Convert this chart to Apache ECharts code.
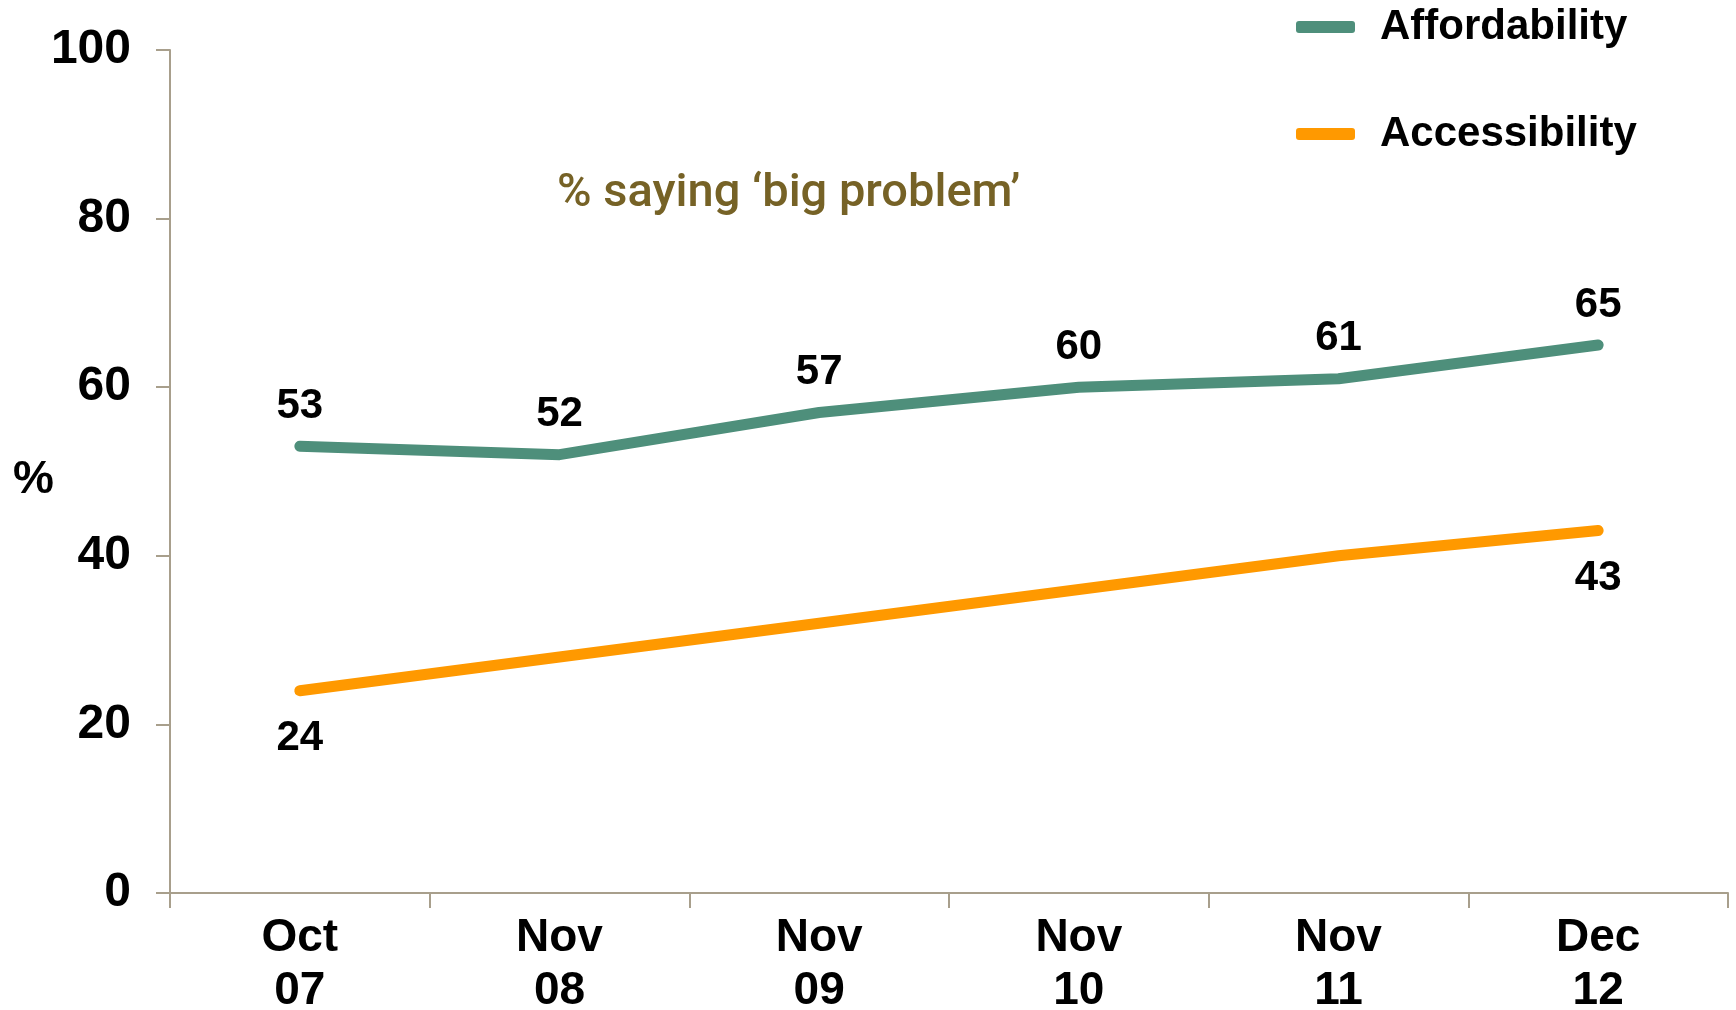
<!DOCTYPE html>
<html>
<head>
<meta charset="utf-8">
<script src="https://cdn.jsdelivr.net/npm/echarts@6/dist/echarts.min.js"></script>
<style>html,body{margin:0;padding:0;background:#fff}#c{width:1736px;height:1010px}</style>
</head>
<body>
<div id="c"></div>
<script>
const categories = ['Oct\n07', 'Nov\n08', 'Nov\n09', 'Nov\n10', 'Nov\n11', 'Dec\n12'];
const affordability = [53, 52, 57, 60, 61, 65];
const accessibility = [24, 28, 32, 36, 40, 43];
const accessibilityLabelled = [0, 5];
const yTicks = [0, 20, 40, 60, 80, 100];

const FONT = '"Liberation Sans", Arial, sans-serif';
const chart = echarts.init(document.getElementById('c'));
const axisColor = '#a89f8c';

chart.setOption({
  animation: false,
  grid: { left: 170, right: 8, top: 50, bottom: 117, containLabel: false, outerBoundsMode: 'none' },
  legend: {
    orient: 'vertical', left: 1291, top: 1, itemGap: 65,
    icon: 'roundRect', itemWidth: 59, itemHeight: 12,
    textStyle: { fontFamily: FONT, fontWeight: 'bold', fontSize: 42, color: '#000', padding: [0, 0, 0, 20] },
    data: ['Affordability', 'Accessibility']
  },
  graphic: [
    { type: 'text', left: 557, top: 171, style: { text: '% saying \u2018big problem\u2019', fontFamily: 'Roboto, sans-serif', fontWeight: 500, fontSize: 47, fill: '#766226' } },
    { type: 'text', left: 13, top: 457, style: { text: '%', fontFamily: FONT, fontWeight: 'bold', fontSize: 46, fill: '#000' } }
  ],
  xAxis: {
    type: 'category', data: categories, boundaryGap: true,
    axisLine: { lineStyle: { color: axisColor, width: 2 } },
    axisTick: { show: true, length: 15, lineStyle: { color: axisColor, width: 2 } },
    axisLabel: { fontFamily: FONT, fontWeight: 'bold', fontSize: 46, color: '#000', margin: 19, lineHeight: 53, interval: 0 }
  },
  yAxis: {
    type: 'value', min: 0, max: 100, interval: 20,
    axisLine: { show: true, lineStyle: { color: axisColor, width: 2 } },
    axisTick: { show: true, length: 14, lineStyle: { color: axisColor, width: 2 } },
    splitLine: { show: false },
    axisLabel: { fontFamily: FONT, fontWeight: 'bold', fontSize: 48, color: '#000', margin: 39,
      formatter: v => yTicks.includes(v) ? String(v) : '' }
  },
  series: [
    {
      name: 'Affordability', type: 'line', data: affordability,
      symbol: 'circle', symbolSize: 0, showSymbol: true,
      itemStyle: { color: '#4e8f7b' },
      lineStyle: { color: '#4e8f7b', width: 11, cap: 'round', join: 'round' },
      label: { show: true, position: 'top', distance: 19, fontFamily: FONT, fontWeight: 'bold', fontSize: 42, color: '#000' }
    },
    {
      name: 'Accessibility', type: 'line',
      data: accessibility.map((v, i) => ({
        value: v,
        label: { show: accessibilityLabelled.includes(i) }
      })),
      symbol: 'circle', symbolSize: 0, showSymbol: true,
      itemStyle: { color: '#ff9900' },
      lineStyle: { color: '#ff9900', width: 11, cap: 'round', join: 'round' },
      label: { show: false, position: 'bottom', distance: 27, fontFamily: FONT, fontWeight: 'bold', fontSize: 42, color: '#000' }
    }
  ]
});
</script>
</body>
</html>
